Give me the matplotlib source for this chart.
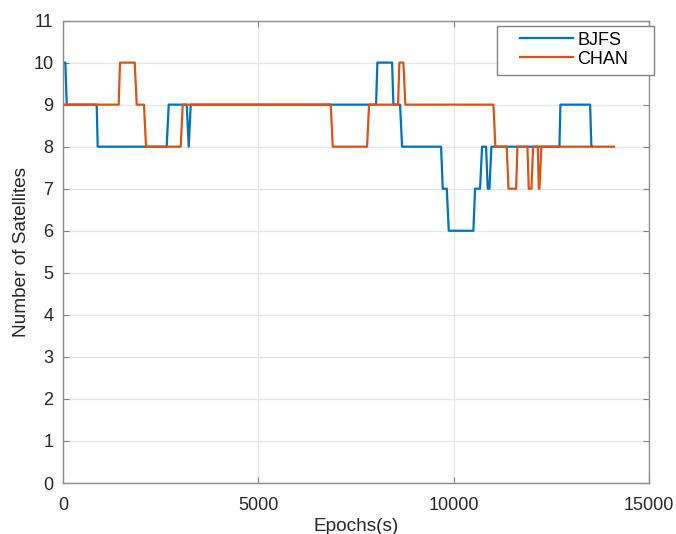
import matplotlib
matplotlib.use('Agg')
import matplotlib.pyplot as plt
from matplotlib.patches import Rectangle

plt.rcParams['font.family'] = ['Liberation Sans', 'DejaVu Sans']

# BJFS satellite count (epoch, count) vertices
bjfs_t = [0, 60, 95, 862, 888, 2654, 2705, 3166, 3218, 3269, 8012, 8046, 8422, 8456,
          8626, 8678, 9676, 9719, 9822, 9873, 10503, 10546, 10674, 10725, 10827, 10870,
          10913, 10964, 12705, 12730, 13490, 13523, 13550]
bjfs_n = [10, 10, 9, 9, 8, 8, 9, 9, 8, 9, 9, 10, 10, 9,
          9, 8, 8, 7, 7, 6, 6, 7, 7, 8, 8, 7,
          7, 8, 8, 9, 9, 8, 8]

# CHAN satellite count (epoch, count) vertices
chan_t = [0, 1425, 1459, 1835, 1886, 2073, 2125, 3012, 3064, 6852, 6904, 7782, 7833,
          8575, 8609, 8711, 8762, 11015, 11066, 11357, 11400, 11596, 11630, 11886, 11920,
          11988, 12031, 12151, 12177, 12193, 12244, 14100]
chan_n = [9, 9, 10, 10, 9, 9, 8, 8, 9, 9, 8, 8, 9,
          9, 10, 10, 9, 9, 8, 8, 7, 7, 8, 8, 7,
          7, 8, 8, 7, 7, 8, 8]

W, H = 676, 534
fig = plt.figure(figsize=(W / 100, H / 100), dpi=100)
ax = fig.add_axes([0.0932, 0.0955, 0.867, 0.866])

ax.plot(bjfs_t, bjfs_n, color='#0072BD', linewidth=1.6, label='BJFS')
ax.plot(chan_t, chan_n, color='#D95319', linewidth=1.6, label='CHAN')

ax.set_xlim(0, 15000)
ax.set_ylim(0, 11)
ax.set_xticks([0, 5000, 10000, 15000])
ax.set_yticks(range(0, 12))
ax.grid(True, color='#e6e6e6', linewidth=0.9)
ax.set_axisbelow(True)
ax.tick_params(direction='in', top=True, right=True, labelsize=13,
               colors='#808080', labelcolor='#262626', length=4)
ax.tick_params(axis='x', pad=10)
ax.tick_params(axis='y', pad=7)
for s in ax.spines.values():
    s.set_color('#8c8c8c')
    s.set_linewidth(1.0)

ax.set_xlabel('Epochs(s)', fontsize=13.7, color='#262626', labelpad=3)
ax.set_ylabel('Number of Satellites', fontsize=13.7, color='#262626', labelpad=2)

# legend: entries without frame, box drawn separately (wide MATLAB-style box)
leg = ax.legend(loc='upper left', bbox_to_anchor=(518 / W, 1 - 30 / H),
                bbox_transform=fig.transFigure, fontsize=13, handlelength=2.95,
                frameon=False, borderaxespad=0, labelspacing=0.1, borderpad=0.1,
                handletextpad=0.25)
leg.set_zorder(6)
ax.add_patch(Rectangle((497 / W, 1 - 75 / H), 157 / W, 49 / H,
                       transform=fig.transFigure, facecolor='white',
                       edgecolor='#808080', linewidth=1.0, zorder=5, clip_on=False))

plt.savefig('out.png', dpi=100)
